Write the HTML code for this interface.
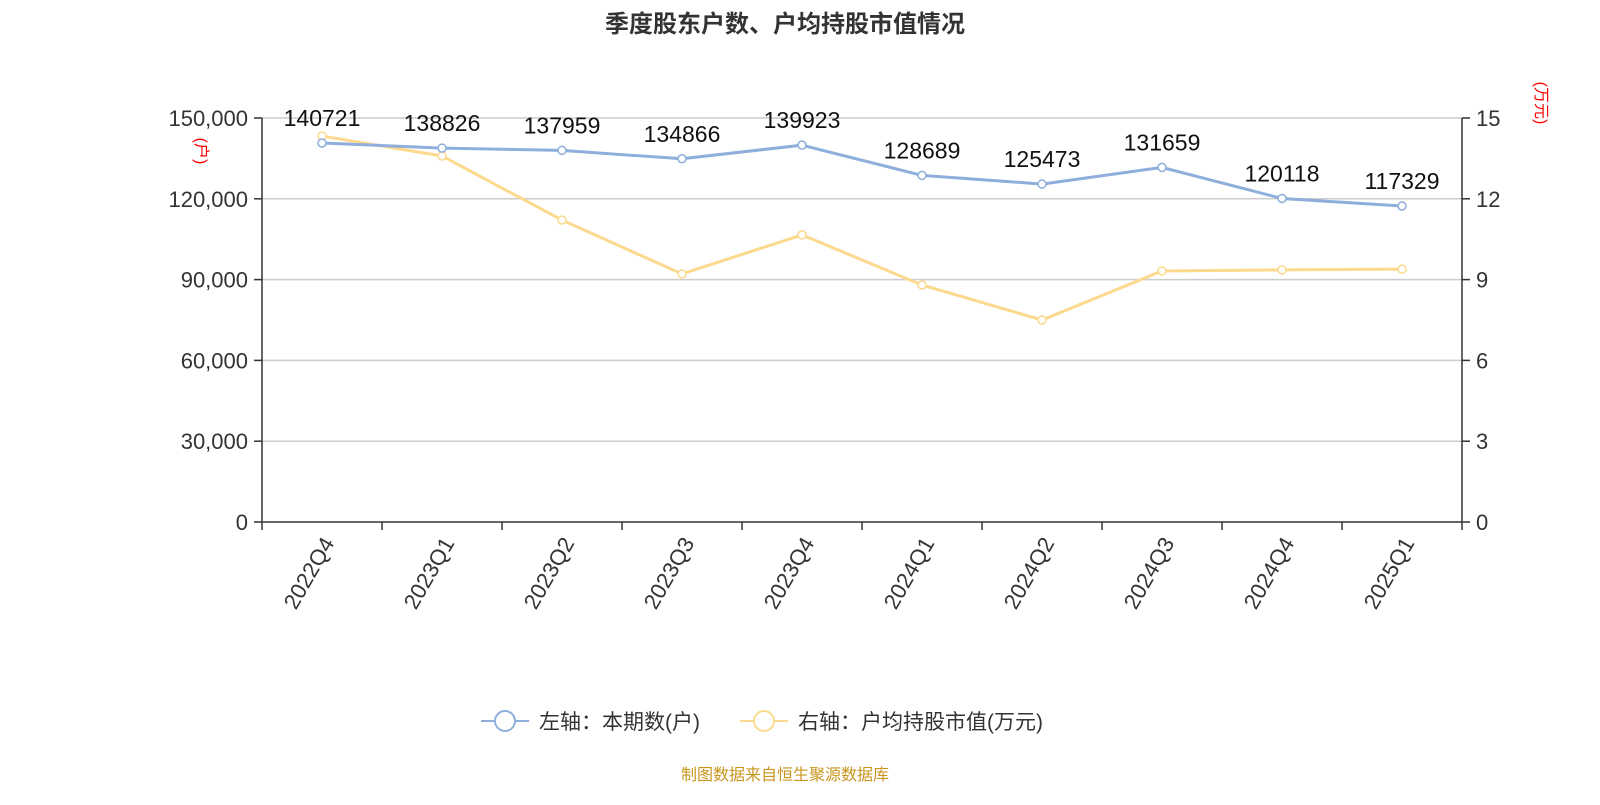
<!DOCTYPE html>
<html><head><meta charset="utf-8"><style>
body{margin:0;background:#fff;width:1600px;height:800px;overflow:hidden}
svg text{font-family:"Liberation Sans","Noto Sans CJK SC",sans-serif}
</style></head><body>
<svg id="c" width="1600" height="800" xmlns="http://www.w3.org/2000/svg">
<text x="785" y="32" text-anchor="middle" font-size="24" font-weight="bold" fill="#333">季度股东户数、户均持股市值情况</text>
<g id="grid"></g><g id="axes"></g><g id="series"></g>
<text transform="translate(200,151) rotate(90)" text-anchor="middle" font-size="16" fill="red" dominant-baseline="middle">(户)</text>
<text transform="translate(1540,103) rotate(90)" text-anchor="middle" font-size="16" fill="red" dominant-baseline="middle">(万元)</text>
<g>
<line x1="481" y1="721" x2="529" y2="721" stroke="#8eaedb" stroke-width="2"/><circle cx="505" cy="721" r="10" fill="#fff" stroke="#8eaedb" stroke-width="2"/>
<text x="539" y="729" font-size="21" fill="#333">左轴：本期数(户)</text></g>
<g>
<line x1="740" y1="721" x2="788" y2="721" stroke="#fcd98d" stroke-width="2"/><circle cx="764" cy="721" r="10" fill="#fff" stroke="#fcd98d" stroke-width="2"/>
<text x="798" y="729" font-size="21" fill="#333">右轴：户均持股市值(万元)</text></g>
<text x="785" y="780" text-anchor="middle" font-size="16" fill="#c8961e">制图数据来自恒生聚源数据库</text>
</svg>
<script>
const categories=["2022Q4","2023Q1","2023Q2","2023Q3","2023Q4","2024Q1","2024Q2","2024Q3","2024Q4","2025Q1"];
const holders=[140721,138826,137959,134866,139923,128689,125473,131659,120118,117329];
const avgValue=[14.33,13.59,11.21,9.21,10.66,8.80,7.50,9.32,9.36,9.39];
const leftTicks=[0,30000,60000,90000,120000,150000];
const rightTicks=[0,3,6,9,12,15];
const NS="http://www.w3.org/2000/svg";
const L=262,R=1462,T=118,B=522;
const bw=(R-L)/categories.length;
const x=i=>L+bw*(i+0.5);
const yl=v=>B-(v/150000)*(B-T);
const yr=v=>B-(v/15)*(B-T);
function mk(tag,attrs,parent,txt){const e=document.createElementNS(NS,tag);for(const k in attrs)e.setAttribute(k,attrs[k]);if(txt!==undefined)e.textContent=txt;document.getElementById(parent).appendChild(e);return e;}
leftTicks.forEach((t,i)=>{
 const y=yl(t);
 if(t>0){const g=mk('line',{x1:L,x2:R,y1:y,y2:y,stroke:'#ccc','stroke-width':1.5},'grid');
 
 }
 mk('line',{x1:L-8,x2:L,y1:y,y2:y,stroke:'#333','stroke-width':1.5},'axes');
 const lt=mk('text',{x:L-14,y:y+8,'text-anchor':'end','font-size':22,fill:'#333'},'axes',t.toLocaleString('en-US'));
 
 
});
rightTicks.forEach(t=>{
 const y=yr(t);
 mk('line',{x1:R,x2:R+8,y1:y,y2:y,stroke:'#333','stroke-width':1.5},'axes');
 const rt=mk('text',{x:R+14,y:y+8,'font-size':22,fill:'#333'},'axes',String(t));
 
 
});
mk('line',{x1:L,x2:L,y1:T,y2:B,stroke:'#333','stroke-width':1.5},'axes');
mk('line',{x1:R,x2:R,y1:T,y2:B,stroke:'#333','stroke-width':1.5},'axes');
mk('line',{x1:L,x2:R,y1:B,y2:B,stroke:'#333','stroke-width':1.5},'axes');
for(let i=0;i<=categories.length;i++){const xx=L+bw*i;mk('line',{x1:xx,x2:xx,y1:B,y2:B+8,stroke:'#333','stroke-width':1.5},'axes');}
categories.forEach((c,i)=>{
 const xt=x(i)+8,yt=B+18;
 const t=mk('text',{x:xt,y:yt,'text-anchor':'end','font-size':22,fill:'#333',transform:`rotate(-60 ${xt} ${yt})`,'dominant-baseline':'middle'},'axes',c);
 
 
});
function series(vals,yf,color,name,labels){
 const p=mk('polyline',{points:vals.map((v,i)=>x(i)+','+yf(v)).join(' '),fill:'none',stroke:color,'stroke-width':3},'series');
 
 
 vals.forEach((v,i)=>{
  const c=mk('circle',{cx:x(i),cy:yf(v),r:4,fill:'#fff',stroke:color,'stroke-width':1.5},'series');
  
  
  if(labels){const t=mk('text',{x:x(i),y:yf(v)-17,'text-anchor':'middle','font-size':23,fill:'#111'},'series',String(v));
  
  }
 });
}
series(avgValue,yr,'#fcd98d','avg-value',false);
series(holders,yl,'#8eaedb','holders',true);
</script>
</body></html>
